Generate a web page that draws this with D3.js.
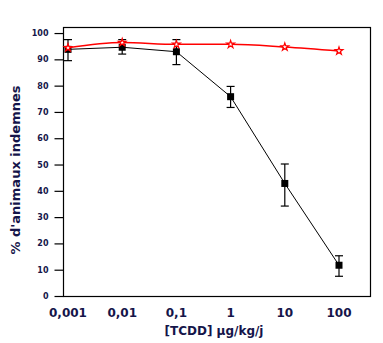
<!DOCTYPE html>
<html>
<head>
<meta charset="utf-8">
<script src="https://cdn.jsdelivr.net/npm/d3@7"></script>
<style>
  body { margin: 0; background: #fff; }
  text { font-family: "DejaVu Sans", Verdana, sans-serif; font-weight: bold; fill: #15154a; }
</style>
</head>
<body>
<div id="chart"></div>
<script>
// doses (µg/kg/j) and % of animals without lesions
var doses = [0.001, 0.01, 0.1, 1, 10, 100]
var doseLabels = ["0,001", "0,01", "0,1", "1", "10", "100"]
var blackMean = [93.8, 94.6, 92.9, 75.8, 42.8, 11.7]
var blackLow = [89.5, 92.0, 88.0, 71.7, 34.2, 7.5]
var blackHigh = [97.5, 97.5, 97.5, 79.7, 50.2, 15.3]
var redMean = [94.4, 96.4, 95.7, 95.7, 94.7, 93.2]
var yTicks = [0, 10, 20, 30, 40, 50, 60, 70, 80, 90, 100]

var width = 383,
    height = 343,
    plotLeft = 63, plotRight = 370, plotTop = 27, plotBottom = 296

var svg = d3.select("#chart")
  .append("svg")
    .attr("width", width)
    .attr("height", height)

// log x scale: about 54 px per decade
var x = d3.scaleLog()
  .domain([0.001 / Math.pow(10, 5 / 54.2), 100 * Math.pow(10, 31 / 54.2)])
  .range([plotLeft, plotRight])

var y = d3.scaleLinear()
  .domain([0, 102.3])
  .range([plotBottom, plotTop])

// frame
svg.append("rect")
  .attr("x", plotLeft + 0.5)
  .attr("y", plotTop + 0.5)
  .attr("width", plotRight - plotLeft)
  .attr("height", plotBottom - plotTop)
  .attr("fill", "none")
  .attr("stroke", "black")
  .attr("stroke-width", 1.2)

// y axis with outward ticks
var yAxis = svg.append("g")
  .attr("transform", "translate(" + (plotLeft + 0.5) + ",0)")
  .call(d3.axisLeft(y).tickValues(yTicks).tickSize(9).tickPadding(6))
yAxis.select(".domain").remove()
yAxis.selectAll("line").attr("stroke", "black").attr("stroke-width", 1.2)
yAxis.selectAll("text")
  .style("font-size", "8px")
  .style("font-family", "DejaVu Sans, sans-serif")
  .style("font-weight", "bold")
  .attr("fill", "#15154a")

// x tick labels only
svg.selectAll(".xlab")
  .data(doses)
  .enter()
  .append("text")
    .attr("x", function(d) { return x(d) })
    .attr("y", 317)
    .attr("text-anchor", "middle")
    .style("font-size", "12px")
    .text(function(d, i) { return doseLabels[i] })

svg.append("text")
  .attr("x", 214)
  .attr("y", 335)
  .attr("text-anchor", "middle")
  .style("font-size", "12px")
  .text("[TCDD] µg/kg/j")

svg.append("text")
  .attr("transform", "translate(20,170) rotate(-90)")
  .attr("text-anchor", "middle")
  .style("font-size", "13px")
  .text("% d'animaux indemnes")

// black series: line, error bars, squares
var lineB = d3.line()
  .x(function(d, i) { return x(doses[i]) })
  .y(function(d) { return y(d) })

svg.append("path")
  .attr("d", lineB(blackMean))
  .attr("fill", "none")
  .attr("stroke", "black")
  .attr("stroke-width", 1)

var err = svg.selectAll(".err")
  .data(doses)
  .enter()
  .append("g")
err.append("line")
  .attr("x1", function(d) { return x(d) })
  .attr("x2", function(d) { return x(d) })
  .attr("y1", function(d, i) { return y(blackLow[i]) })
  .attr("y2", function(d, i) { return y(blackHigh[i]) })
err.append("line")
  .attr("x1", function(d) { return x(d) - 4 })
  .attr("x2", function(d) { return x(d) + 4 })
  .attr("y1", function(d, i) { return y(blackLow[i]) })
  .attr("y2", function(d, i) { return y(blackLow[i]) })
err.append("line")
  .attr("x1", function(d) { return x(d) - 4 })
  .attr("x2", function(d) { return x(d) + 4 })
  .attr("y1", function(d, i) { return y(blackHigh[i]) })
  .attr("y2", function(d, i) { return y(blackHigh[i]) })
err.selectAll("line").attr("stroke", "black").attr("stroke-width", 1.2)

svg.selectAll(".sq")
  .data(blackMean)
  .enter()
  .append("rect")
    .attr("x", function(d, i) { return x(doses[i]) - 3.5 })
    .attr("y", function(d) { return y(d) - 3.5 })
    .attr("width", 7)
    .attr("height", 7)
    .attr("fill", "black")

// red series: smooth line with small open stars
var lineR = d3.line()
  .x(function(d, i) { return x(doses[i]) })
  .y(function(d) { return y(d) })
  .curve(d3.curveMonotoneX)

svg.append("path")
  .attr("d", lineR(redMean))
  .attr("fill", "none")
  .attr("stroke", "#ff0000")
  .attr("stroke-width", 1.5)

svg.selectAll(".star")
  .data(redMean)
  .enter()
  .append("path")
    .attr("d", d3.symbol().type(d3.symbolStar).size(18))
    .attr("transform", function(d, i) { return "translate(" + x(doses[i]) + "," + y(d) + ")" })
    .attr("fill", "white")
    .attr("stroke", "#ff0000")
    .attr("stroke-width", 1.2)
</script>
</body>
</html>
